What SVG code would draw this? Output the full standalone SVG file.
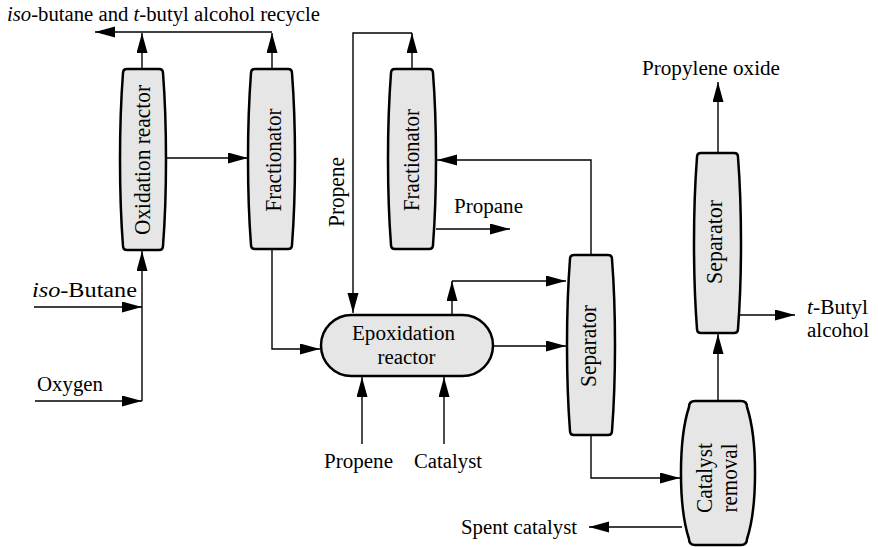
<svg xmlns="http://www.w3.org/2000/svg" width="878" height="547" viewBox="0 0 878 547">
<defs>
<marker id="ah" markerUnits="userSpaceOnUse" markerWidth="21" markerHeight="12" refX="20" refY="5.5" orient="auto">
<path d="M0,0 L20,5.5 L0,11 Z" fill="#000"/>
</marker>
<style>
.unit{fill:#e6e6e6;stroke:#000;stroke-width:2.5;stroke-linejoin:round}
.ln{fill:none;stroke:#000;stroke-width:1.4}
.ar{marker-end:url(#ah)}
text{font-family:"Liberation Serif","Times New Roman",serif;fill:#000}
.h{font-size:20px}
.v{font-size:22.5px;text-anchor:middle}
.c{text-anchor:middle}
</style>
</defs>
<rect width="878" height="547" fill="#fff"/>

<g id="connectors">
<path class="ln ar" d="M142,69 L142,33"/>
<path class="ln ar" d="M272,69 L272,33"/>
<path class="ln ar" d="M272,32 L95,32"/>
<path class="ln ar" d="M166,158 L248,158"/>
<path class="ln ar" d="M34,307 L142,307"/>
<path class="ln ar" d="M35,401 L142,401"/>
<path class="ln ar" d="M142,401 L142,251"/>
<path class="ln ar" d="M272,249 L272,349 L320,349"/>
<path class="ln ar" d="M412,69 L412,33"/>
<path class="ln ar" d="M412,33 L353,33 L353,313"/>
<path class="ln ar" d="M452,315 L452,281"/>
<path class="ln ar" d="M452,281 L566,281"/>
<path class="ln ar" d="M493,346 L566,346"/>
<path class="ln ar" d="M591,255 L591,160 L437,160"/>
<path class="ln ar" d="M436,229 L510,229"/>
<path class="ln ar" d="M362,444 L362,377"/>
<path class="ln ar" d="M444,444 L444,377"/>
<path class="ln ar" d="M591,435 L591,478 L680,478"/>
<path class="ln ar" d="M682,527 L589,527"/>
<path class="ln ar" d="M718,401 L718,334"/>
<path class="ln ar" d="M718,153 L718,82"/>
<path class="ln ar" d="M739,315 L795,315"/>
</g>

<g id="oxidation-reactor">
<path class="unit" d="M127,69 L159,69 Q163,69 163,73 C167,125 167,194 163,246 Q163,250 159,250 L127,250 Q123,250 123,246 C119,194 119,125 123,73 Q123,69 127,69 Z"/>
<text class="v" transform="translate(150,160) rotate(-90)" textLength="150" lengthAdjust="spacingAndGlyphs">Oxidation reactor</text>
</g>

<g id="fractionator-1">
<path class="unit" d="M255,69 L288,69 Q292,69 292,73 C296,125 296,193 292,245 Q292,249 288,249 L255,249 Q251,249 251,245 C247,193 247,125 251,73 Q251,69 255,69 Z"/>
<text class="v" transform="translate(281,160) rotate(-90)" textLength="103" lengthAdjust="spacingAndGlyphs">Fractionator</text>
</g>

<g id="fractionator-2">
<path class="unit" d="M395,69 L429,69 Q433,69 433,73 C437,125 437,193 433,245 Q433,249 429,249 L395,249 Q391,249 391,245 C387,193 387,125 391,73 Q391,69 395,69 Z"/>
<text class="v" transform="translate(419,160) rotate(-90)" textLength="102" lengthAdjust="spacingAndGlyphs">Fractionator</text>
</g>

<g id="epoxidation-reactor">
<rect class="unit" x="321" y="315" width="172" height="61" rx="30.5" ry="30.5"/>
<text class="h c" x="403.5" y="340" textLength="103" lengthAdjust="spacingAndGlyphs">Epoxidation</text>
<text class="h c" x="406.5" y="364" textLength="58" lengthAdjust="spacingAndGlyphs">reactor</text>
</g>

<g id="separator-1">
<path class="unit" d="M574,255 L608,255 Q612,255 612,259 C616,311 616,379 612,431 Q612,435 608,435 L574,435 Q570,435 570,431 C566,379 566,311 570,259 Q570,255 574,255 Z"/>
<text class="v" transform="translate(596,346) rotate(-90)" textLength="82" lengthAdjust="spacingAndGlyphs">Separator</text>
</g>

<g id="separator-2">
<path class="unit" d="M701,153 L734,153 Q738,153 738,157 C742,209 742,277 738,329 Q738,333 734,333 L701,333 Q697,333 697,329 C693,277 693,209 697,157 Q697,153 701,153 Z"/>
<text class="v" transform="translate(722,242) rotate(-90)" textLength="84" lengthAdjust="spacingAndGlyphs">Separator</text>
</g>

<g id="catalyst-removal">
<path class="unit" d="M695,401 L741,401 Q747,401 747,407 C757.7,440 757.7,506 747,539 Q747,545 741,545 L695,545 Q689,545 689,539 C678.3,506 678.3,440 689,407 Q689,401 695,401 Z"/>
<text class="v" transform="translate(712,478) rotate(-90)" textLength="70" lengthAdjust="spacingAndGlyphs">Catalyst</text>
<text class="v" transform="translate(737,478) rotate(-90)" textLength="69" lengthAdjust="spacingAndGlyphs">removal</text>
</g>

<g id="labels">
<text class="h" x="7" y="21" textLength="313" lengthAdjust="spacingAndGlyphs"><tspan font-style="italic">iso</tspan>-butane and <tspan font-style="italic">t</tspan>-butyl alcohol recycle</text>
<text class="h" x="32" y="297" textLength="105" lengthAdjust="spacingAndGlyphs"><tspan font-style="italic">iso</tspan>-Butane</text>
<text class="h" x="37" y="391" textLength="66" lengthAdjust="spacingAndGlyphs">Oxygen</text>
<text class="v" transform="translate(344,192) rotate(-90)" textLength="70" lengthAdjust="spacingAndGlyphs">Propene</text>
<text class="h" x="454" y="213" textLength="69" lengthAdjust="spacingAndGlyphs">Propane</text>
<text class="h" x="324" y="468" textLength="69" lengthAdjust="spacingAndGlyphs">Propene</text>
<text class="h" x="414" y="468" textLength="68" lengthAdjust="spacingAndGlyphs">Catalyst</text>
<text class="h" x="642" y="75" textLength="138" lengthAdjust="spacingAndGlyphs">Propylene oxide</text>
<text class="h" x="807" y="314" textLength="61" lengthAdjust="spacingAndGlyphs"><tspan font-style="italic">t</tspan>-Butyl</text>
<text class="h" x="807" y="337" textLength="62" lengthAdjust="spacingAndGlyphs">alcohol</text>
<text class="h" x="461" y="534" textLength="116" lengthAdjust="spacingAndGlyphs">Spent catalyst</text>
</g>
</svg>
